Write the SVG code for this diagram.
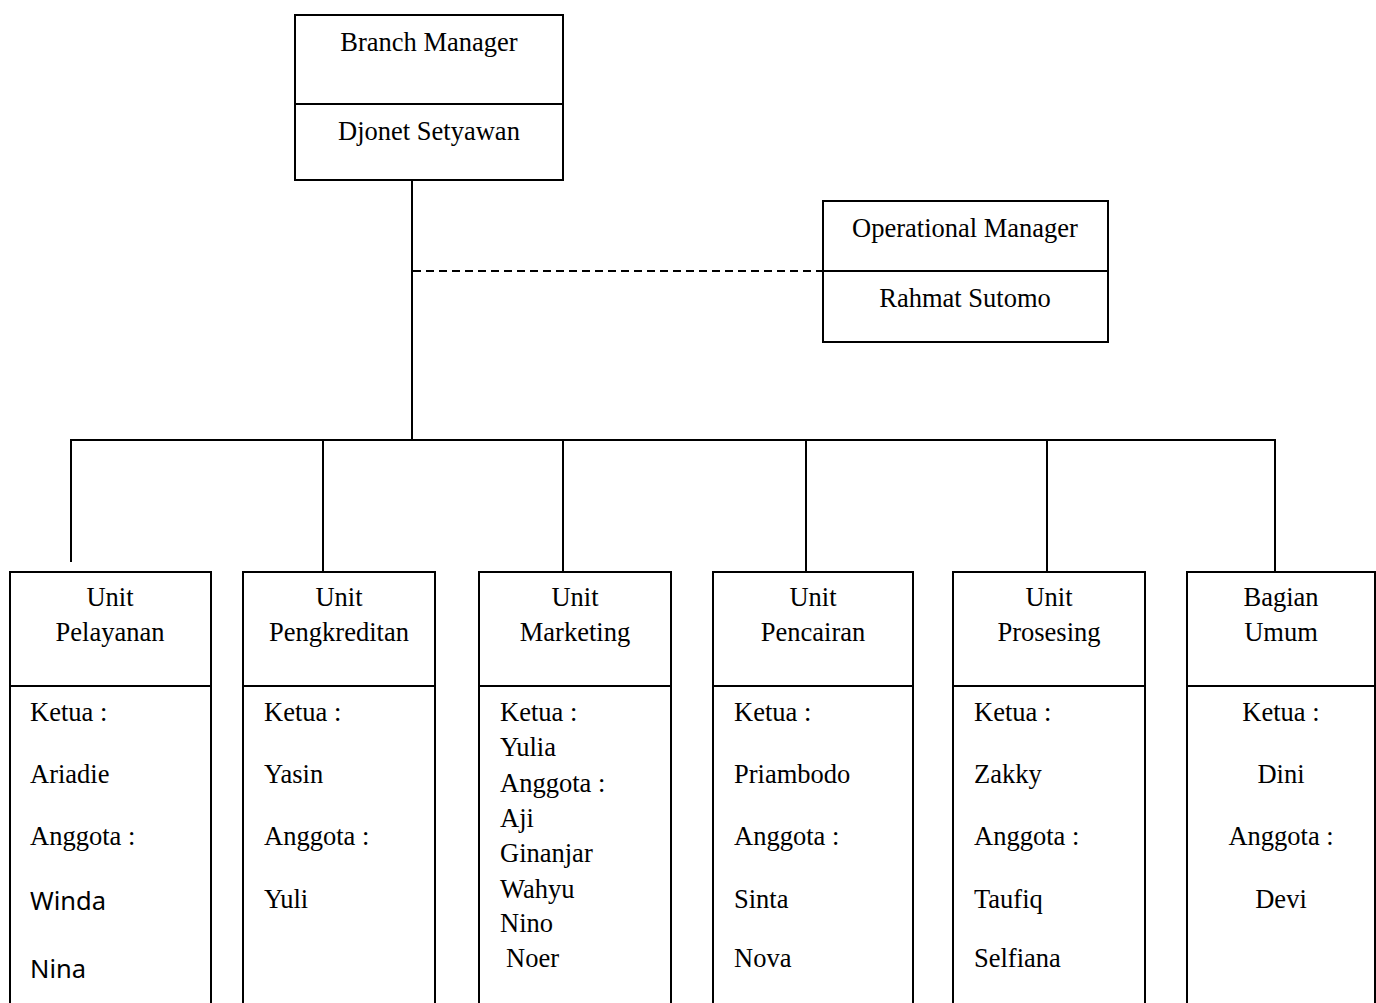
<svg xmlns="http://www.w3.org/2000/svg" width="1376" height="1003" viewBox="0 0 1376 1003">
<style>
.box{fill:#fff;stroke:#000;stroke-width:2}
.ln{stroke:#000;stroke-width:2;fill:none}
.dash{stroke:#000;stroke-width:2;fill:none;stroke-dasharray:8 5}
text{font-family:"Liberation Serif","Times New Roman",serif;font-size:26.5px;fill:#000}
.c{text-anchor:middle}
.sans{font-family:"Noto Sans","Liberation Sans",sans-serif;font-size:25.5px}
</style>
<rect width="1376" height="1003" fill="#fff"/>
<g id="connectors">
<line class="ln" x1="412" y1="180" x2="412" y2="440"/>
<line class="dash" x1="413" y1="271" x2="823" y2="271"/>
<line class="ln" x1="70" y1="440" x2="1276" y2="440"/>
<line class="ln" x1="71" y1="440" x2="71" y2="562"/>
<line class="ln" x1="323" y1="440" x2="323" y2="572"/>
<line class="ln" x1="563" y1="440" x2="563" y2="572"/>
<line class="ln" x1="806" y1="440" x2="806" y2="572"/>
<line class="ln" x1="1047" y1="440" x2="1047" y2="572"/>
<line class="ln" x1="1275" y1="440" x2="1275" y2="572"/>
</g>
<g id="branch-manager">
<rect class="box" x="295" y="15" width="268" height="165"/>
<line class="ln" x1="295" y1="104" x2="563" y2="104"/>
<text class="c" x="429" y="51">Branch Manager</text>
<text class="c" x="429" y="140">Djonet Setyawan</text>
</g>
<g id="operational-manager">
<rect class="box" x="823" y="201" width="285" height="141"/>
<line class="ln" x1="823" y1="271" x2="1108" y2="271"/>
<text class="c" x="965" y="237">Operational Manager</text>
<text class="c" x="965" y="307">Rahmat Sutomo</text>
</g>
<g id="unit-pelayanan">
<rect class="box" x="10" y="572" width="201" height="440"/>
<line class="ln" x1="10" y1="686" x2="211" y2="686"/>
<text class="c" x="110" y="606">Unit</text>
<text class="c" x="110" y="641">Pelayanan</text>
<text x="30" y="721">Ketua :</text>
<text x="30" y="783">Ariadie</text>
<text x="30" y="845">Anggota :</text>
<text class="sans" x="30" y="910">Winda</text>
<text class="sans" x="30" y="978">Nina</text>
</g>
<g id="unit-pengkreditan">
<rect class="box" x="243" y="572" width="192" height="440"/>
<line class="ln" x1="243" y1="686" x2="435" y2="686"/>
<text class="c" x="339" y="606">Unit</text>
<text class="c" x="339" y="641">Pengkreditan</text>
<text x="264" y="721">Ketua :</text>
<text x="264" y="783">Yasin</text>
<text x="264" y="845">Anggota :</text>
<text x="264" y="908">Yuli</text>
</g>
<g id="unit-marketing">
<rect class="box" x="479" y="572" width="192" height="440"/>
<line class="ln" x1="479" y1="686" x2="671" y2="686"/>
<text class="c" x="575" y="606">Unit</text>
<text class="c" x="575" y="641">Marketing</text>
<text x="500" y="721">Ketua :</text>
<text x="500" y="756">Yulia</text>
<text x="500" y="792">Anggota :</text>
<text x="500" y="827">Aji</text>
<text x="500" y="862">Ginanjar</text>
<text x="500" y="898">Wahyu</text>
<text x="500" y="932">Nino</text>
<text x="506" y="967">Noer</text>
</g>
<g id="unit-pencairan">
<rect class="box" x="713" y="572" width="200" height="440"/>
<line class="ln" x1="713" y1="686" x2="913" y2="686"/>
<text class="c" x="813" y="606">Unit</text>
<text class="c" x="813" y="641">Pencairan</text>
<text x="734" y="721">Ketua :</text>
<text x="734" y="783">Priambodo</text>
<text x="734" y="845">Anggota :</text>
<text x="734" y="908">Sinta</text>
<text x="734" y="967">Nova</text>
</g>
<g id="unit-prosesing">
<rect class="box" x="953" y="572" width="192" height="440"/>
<line class="ln" x1="953" y1="686" x2="1145" y2="686"/>
<text class="c" x="1049" y="606">Unit</text>
<text class="c" x="1049" y="641">Prosesing</text>
<text x="974" y="721">Ketua :</text>
<text x="974" y="783">Zakky</text>
<text x="974" y="845">Anggota :</text>
<text x="974" y="908">Taufiq</text>
<text x="974" y="967">Selfiana</text>
</g>
<g id="bagian-umum">
<rect class="box" x="1187" y="572" width="188" height="440"/>
<line class="ln" x1="1187" y1="686" x2="1375" y2="686"/>
<text class="c" x="1281" y="606">Bagian</text>
<text class="c" x="1281" y="641">Umum</text>
<text class="c" x="1281" y="721">Ketua :</text>
<text class="c" x="1281" y="783">Dini</text>
<text class="c" x="1281" y="845">Anggota :</text>
<text class="c" x="1281" y="908">Devi</text>
</g>
</svg>
